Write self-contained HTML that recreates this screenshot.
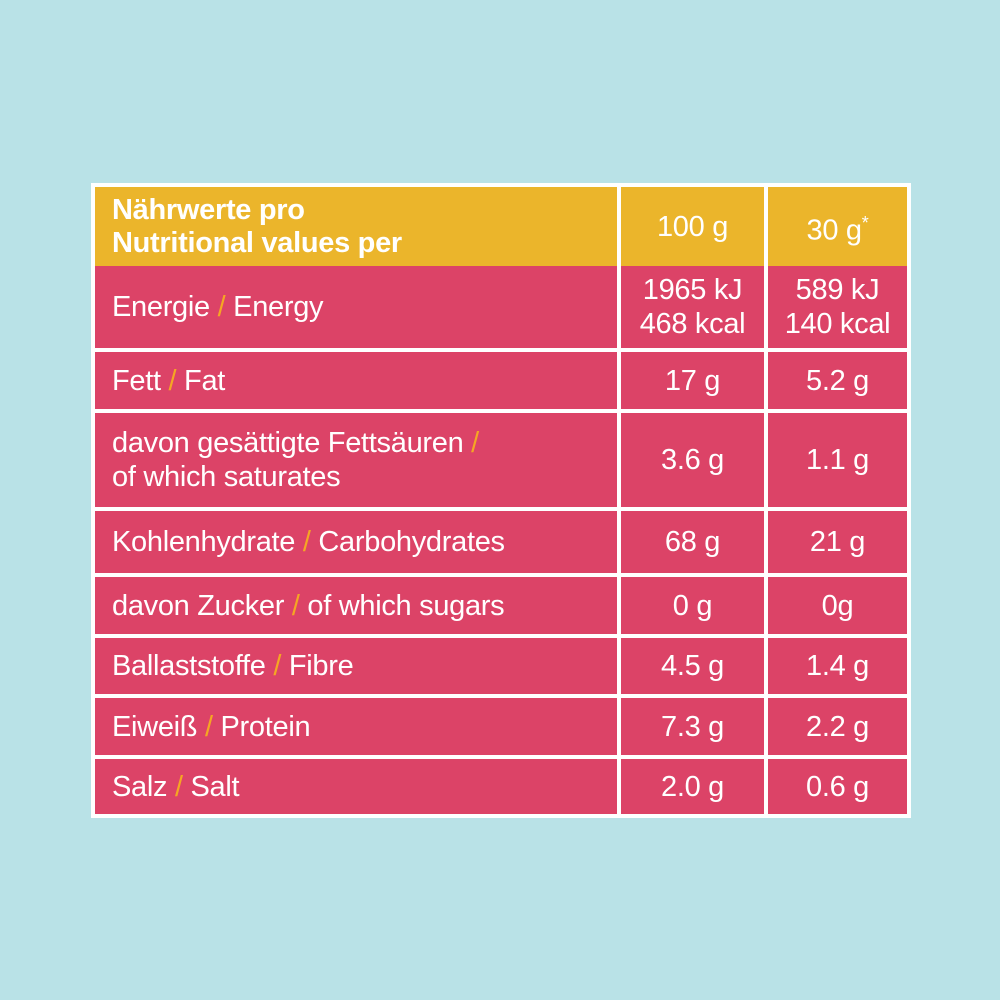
<!DOCTYPE html>
<html><head><meta charset="utf-8"><style>
body{margin:0;width:1000px;height:1000px;background:#b9e2e7;font-family:"Liberation Sans",sans-serif;overflow:hidden}
#t{position:absolute;left:91px;top:183px;width:820px;height:635px;background:#fff}
.c{position:absolute;box-sizing:border-box;color:#fff;font-size:29px;display:flex;align-items:center;line-height:34px;letter-spacing:-0.3px}
.p{background:#dc4367}.y{background:#ebb52b}
.l{padding-left:17px}.r{justify-content:center;text-align:center}
.s{color:#f5a623}
</style></head><body>
<div id="t"></div>
<script>
const labels=[["Energie","Energy"],["Fett","Fat"],["davon gesättigte Fettsäuren","<br>of which saturates"],["Kohlenhydrate","Carbohydrates"],["davon Zucker","of which sugars"],["Ballaststoffe","Fibre"],["Eiweiß","Protein"],["Salz","Salt"]];
const per100=["1965 kJ<br>468 kcal","17 g","3.6 g","68 g","0 g","4.5 g","7.3 g","2.0 g"];
const per30=["589 kJ<br>140 kcal","5.2 g","1.1 g","21 g","0g","1.4 g","2.2 g","0.6 g"];
const rows=[[187,266],[266,348],[352,409],[413,507],[511,573],[577,634],[638,694],[698,755],[759,814]];
const cols=[[95,617],[621,764],[768,907]];
const t=document.getElementById('t');
function cell(r,c,html,cls,name){
  const d=document.createElement('div');
  
  
  d.className='c '+cls;
  d.style.left=(cols[c][0]-91)+'px';d.style.top=(rows[r][0]-183)+'px';
  d.style.width=(cols[c][1]-cols[c][0])+'px';d.style.height=(rows[r][1]-rows[r][0])+'px';
  d.innerHTML='<div>'+html+'</div>';t.appendChild(d);
}
cell(0,0,'<b style="line-height:33px;display:block;margin-top:0px">Nährwerte pro<br>Nutritional values per</b>','y l','header-label');
cell(0,1,'100 g','y r','header-100g');
cell(0,2,'30 g<sup style="font-size:18px">*</sup>','y r','header-30g');
labels.forEach((lb,i)=>{
  const sep=lb[1].startsWith('<br>')?' <span class="s">/</span><br>'+lb[1].slice(4):' <span class="s">/</span> '+lb[1];
  cell(i+1,0,lb[0]+sep,'p l','row-label-'+i);
  cell(i+1,1,per100[i],'p r','value-100g-'+i);
  cell(i+1,2,per30[i],'p r','value-30g-'+i);
});
</script>
</body></html>
